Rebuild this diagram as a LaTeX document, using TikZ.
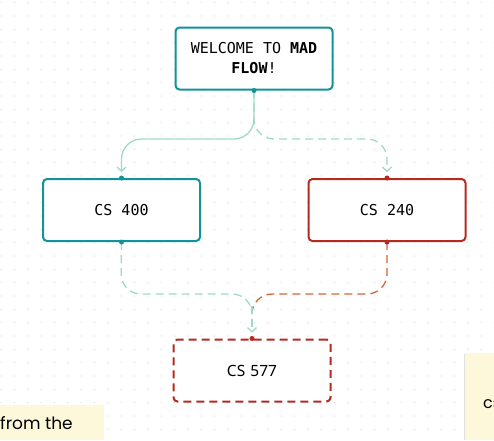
\documentclass[tikz,border=0pt]{standalone}
\usepackage{fontspec}
\usetikzlibrary{arrows.meta}
\newfontfamily\boxmono{DejaVu Sans Mono}
\newfontfamily\boxsans{Noto Sans}
\newfontfamily\notefont{Poppins}
\definecolor{tealb}{HTML}{12939A}
\definecolor{tealc}{HTML}{9FD8C8}
\definecolor{redb}{HTML}{B42A1F}
\definecolor{orangec}{HTML}{D0673A}
\definecolor{notey}{HTML}{FDF8DA}
\definecolor{gridd}{HTML}{DADADA}
\tikzset{
  card/.style={draw, line width=2pt, rounded corners=4pt, fill=white, minimum width=157pt, minimum height=62pt, inner sep=0pt, align=center, text=black},
  tealcard/.style={card, draw=tealb},
  redcard/.style={card, draw=redb},
  port/.style={circle, fill=#1, inner sep=0pt, minimum size=5pt},
  flowline/.style={line width=1.3pt, rounded corners=20pt},
  flow/.style={flowline, -{Straight Barb[length=4pt,width=9pt,line width=1.3pt]}, shorten >=6pt},
  dashflow/.style={flow, dash pattern=on 8pt off 5pt},
  dashline/.style={flowline, dash pattern=on 8pt off 5pt},
}
\begin{document}
\begin{tikzpicture}[x=1pt,y=-1pt]
\useasboundingbox (0,0) rectangle (494,440);
\clip (0,0) rectangle (494,440);
% dot grid
\foreach \i in {0,...,37}{
  \foreach \j in {0,...,33}{
    \fill[gridd] (1+13.333*\i,2.7+13.333*\j) circle (0.7);
  }
}
% notes
\fill[notey] (0,405) rectangle (104,440);
\node[anchor=base west, inner sep=0pt, font=\notefont\fontsize{17}{20}\selectfont] (noteleft) at (0,429) {from the};
\fill[black!12] (463.5,354) rectangle (465,440);
\fill[notey] (465,353) rectangle (494,440);
\node[anchor=base west, inner sep=0pt, font=\notefont\fontsize{16}{18}\selectfont] (noteright) at (483,408) {cs};
% cards
\node[tealcard, font=\boxmono\fontsize{15}{20}\selectfont] (welcome) at (254,58.5) {WELCOME TO \textbf{MAD}\\\textbf{FLOW}!};
\node[tealcard, font=\boxmono\fontsize{15}{18}\selectfont] (cs400) at (121.5,210) {CS 400};
\node[redcard, font=\boxmono\fontsize{15}{18}\selectfont] (cs240) at (387,210) {CS 240};
\node[redcard, dash pattern=on 8pt off 5pt, font=\boxsans\fontsize{15.5}{18}\selectfont] (cs577) at (252,370.5) {CS\,\,577};
% connectors
\coordinate (top) at (254,139);
\coordinate (mid1) at (121,294);
\coordinate (mid2) at (387,294);
\coordinate (merge) at (252,306);
\draw[dashflow, tealc] (welcome.south) -- (top) -| (cs240.north);
\draw[flow, tealc] (welcome.south) -- (top) -| (cs400.north);
\draw[dashline, orangec] (cs240.south) -- (mid2) -| (merge);
\draw[dashline, tealc] (cs400.south) -- (mid1) -| (merge);
\draw[dashflow, tealc, rounded corners=0pt] (merge) -- (cs577.north);
% ports
\node[port=tealb] (p1) at (welcome.south) {};
\node[port=tealb] (p2) at (cs400.north) {};
\node[port=tealb] (p3) at (cs400.south) {};
\node[port=redb] (p4) at (cs240.north) {};
\node[port=redb] (p5) at (cs240.south) {};
\node[port=redb] (p6) at (cs577.north) {};
\end{tikzpicture}
\end{document}
